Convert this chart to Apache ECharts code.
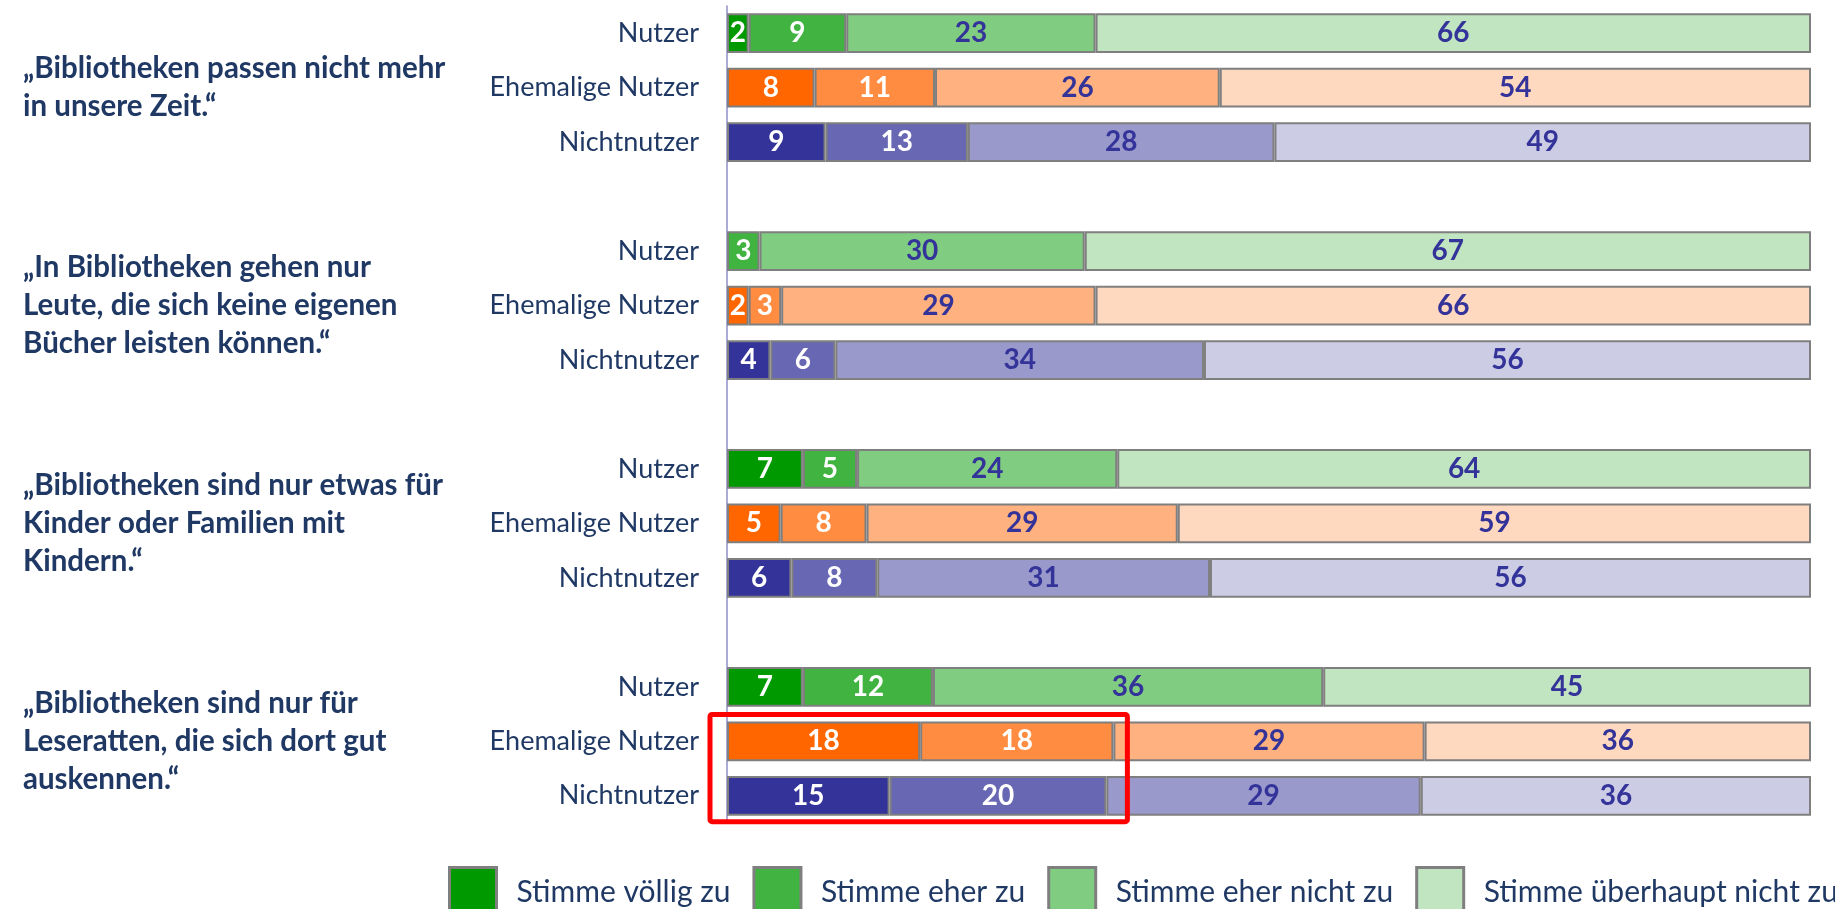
<!DOCTYPE html>
<html>
<head>
<meta charset="utf-8">
<script src="https://cdn.jsdelivr.net/npm/echarts@6/dist/echarts.min.js"></script>
<style>
  html, body { margin: 0; padding: 0; background: #ffffff; }
  #chart { width: 1835px; height: 909px; }
</style>
</head>
<body>
<div id="chart"></div>
<script>
// Survey statements (one per block of three rows)
const questions = [
  '„Bibliotheken passen nicht mehr\nin unsere Zeit.“',
  '„In Bibliotheken gehen nur\nLeute, die sich keine eigenen\nBücher leisten können.“',
  '„Bibliotheken sind nur etwas für\nKinder oder Familien mit\nKindern.“',
  '„Bibliotheken sind nur für\nLeseratten, die sich dort gut\nauskennen.“'
];
const groupRows = ['Nutzer', 'Ehemalige Nutzer', 'Nichtnutzer'];
const seriesNames = ['Stimme völlig zu', 'Stimme eher zu', 'Stimme eher nicht zu', 'Stimme überhaupt nicht zu'];

// Answers in %, ordered statement by statement: Nutzer, Ehemalige Nutzer, Nichtnutzer
const stimmeVoelligZu         = [2, 8, 9,   0, 2, 4,   7, 5, 6,   7, 18, 15];
const stimmeEherZu            = [9, 11, 13, 3, 3, 6,   5, 8, 8,   12, 18, 20];
const stimmeEherNichtZu       = [23, 26, 28, 30, 29, 34, 24, 29, 31, 36, 29, 29];
const stimmeUeberhauptNichtZu = [66, 54, 49, 67, 66, 56, 64, 59, 56, 45, 36, 36];

// Colour ramps per respondent group (dark -> light)
const palette = [
  ['#009900', '#40b340', '#80cc80', '#c1e5c1'],
  ['#ff6600', '#ff8c40', '#ffb27f', '#ffd9bf'],
  ['#333399', '#6767b3', '#9999cc', '#ccccE5']
];
const labelColors = ['#ffffff', '#ffffff', '#333399', '#333399'];

const allValues = [stimmeVoelligZu, stimmeEherZu, stimmeEherNichtZu, stimmeUeberhauptNichtZu];
const FONT = 'Lato';
const NAVY = '#1f3864';

// Build category slots: three rows per statement, one empty slot between statements
const rowLabels = [];
const questionLabels = [];
const slotRow = []; // index into the 12 answer rows, or -1 for spacer
questions.forEach((q, g) => {
  groupRows.forEach((r, i) => {
    rowLabels.push(r);
    questionLabels.push(i === 1 ? q : '');
    slotRow.push(g * 3 + i);
  });
  if (g < questions.length - 1) {
    rowLabels.push('');
    questionLabels.push('');
    slotRow.push(-1);
  }
});

// Row totals for 100% stacking
const rowTotals = stimmeVoelligZu.map((_, i) => allValues.reduce((s, arr) => s + arr[i], 0));

const series = allValues.map((arr, k) => ({
  name: seriesNames[k],
  type: 'bar',
  stack: 'total',
  barCategoryGap: '27%',
  itemStyle: { color: palette[0][k], borderColor: '#7f7f7f', borderWidth: 2 },
  label: {
    show: true,
    position: 'inside',
    fontFamily: FONT,
    fontWeight: 'bold',
    fontSize: 28,
    color: labelColors[k],
    formatter: p => (p.data && p.data.raw ? String(p.data.raw) : '')
  },
  data: slotRow.map(ri => {
    if (ri < 0) return '-';
    const raw = arr[ri];
    const type = ri % 3;
    return {
      value: raw / rowTotals[ri] * 100,
      raw: raw,
      itemStyle: { color: palette[type][k], borderWidth: raw ? 2 : 0 }
    };
  })
}));

const chart = echarts.init(document.getElementById('chart'));
const GRID_LEFT = 727;
chart.setOption({
  animation: false,
  grid: { left: GRID_LEFT, right: 24, top: 6, bottom: 86 },
  xAxis: { type: 'value', min: 0, max: 100, show: false },
  yAxis: [
    {
      type: 'category',
      inverse: true,
      data: rowLabels,
      axisLine: { show: true, lineStyle: { color: '#8f8fc7', width: 1.5 } },
      axisTick: { show: false },
      axisLabel: { interval: 0, margin: 28, fontFamily: FONT, fontSize: 27, color: NAVY }
    },
    {
      type: 'category',
      position: 'left',
      inverse: true,
      data: questionLabels,
      axisLine: { show: false },
      axisTick: { show: false },
      axisLabel: {
        interval: 0, align: 'left', margin: GRID_LEFT - 23,
        fontFamily: FONT, fontWeight: 'bold', fontSize: 29.5, lineHeight: 38, color: NAVY
      }
    }
  ],
  legend: {
    left: 448,
    top: 866,
    width: 1600,
    padding: 0,
    icon: 'rect',
    itemWidth: 47,
    itemHeight: 50,
    itemGap: 22,
    itemStyle: { borderColor: '#7f7f7f', borderWidth: 3 },
    textStyle: { fontFamily: FONT, fontSize: 30, color: NAVY, padding: [0, 0, 0, 15] },
    data: seriesNames
  },
  series: series
});

// Highlight box around the agreement shares of the last statement's former and non-users
(function () {
  const s1 = slotRow.indexOf(10), s2 = slotRow.indexOf(11);
  const shareEnd = ri => (stimmeVoelligZu[ri] + stimmeEherZu[ri]) / rowTotals[ri] * 100;
  const xEnd = Math.max(shareEnd(10), shareEnd(11));
  const p0 = chart.convertToPixel({ gridIndex: 0 }, [0, s1]);
  const p1 = chart.convertToPixel({ gridIndex: 0 }, [xEnd, s2]);
  const slotH = chart.convertToPixel({ gridIndex: 0 }, [0, s2])[1] - p0[1];
  const halfBar = slotH * 0.73 / 2;
  const x0 = p0[0] - 17, x1 = p1[0] + 14;
  const y0 = p0[1] - halfBar - 7, y1 = p1[1] + halfBar + 6;
  chart.setOption({
    graphic: [{
      type: 'rect',
      z: 100,
      shape: { x: x0, y: y0, width: x1 - x0, height: y1 - y0, r: 2 },
      style: { fill: 'none', stroke: '#ff0000', lineWidth: 5 }
    }]
  });
})();
</script>
</body>
</html>
